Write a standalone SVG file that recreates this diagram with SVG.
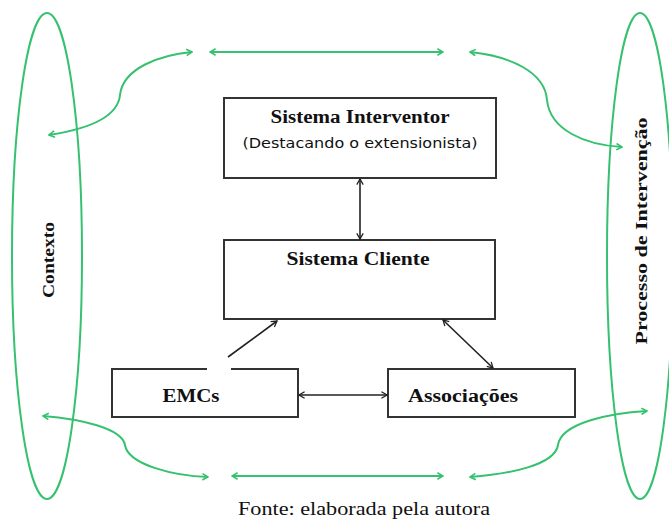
<svg xmlns="http://www.w3.org/2000/svg" width="669" height="522" viewBox="0 0 669 522">
<defs>
<style>
.g{fill:none;stroke:#35c16f;stroke-width:2}
.box{fill:#fff;stroke:#333;stroke-width:2}
.k{fill:none;stroke:#222;stroke-width:1.6}
.t{font-family:"Liberation Serif","Times New Roman",serif;font-weight:bold;fill:#111}
.s{font-family:"DejaVu Sans",Verdana,sans-serif;fill:#111}
</style>
<marker id="ga" viewBox="0 0 10 10" refX="9" refY="5" markerWidth="8" markerHeight="8" orient="auto-start-reverse" markerUnits="userSpaceOnUse">
<path d="M2,1 L9,5 L2,9" fill="none" stroke="#35c16f" stroke-width="2"/>
</marker>
<marker id="ka" viewBox="0 0 10 10" refX="9" refY="5" markerWidth="8" markerHeight="8" orient="auto-start-reverse" markerUnits="userSpaceOnUse">
<path d="M2,1 L9,5 L2,9" fill="none" stroke="#222" stroke-width="1.6"/>
</marker>
</defs>
<rect width="669" height="522" fill="#fff"/>
<g id="contexto">
<ellipse class="g" cx="47" cy="256" rx="35" ry="243"/>
<text class="t" transform="translate(54,260) rotate(-90)" text-anchor="middle" font-size="16" textLength="76" lengthAdjust="spacingAndGlyphs">Contexto</text>
</g>
<g id="processo">
<ellipse class="g" cx="640" cy="256" rx="33" ry="243"/>
<text class="t" transform="translate(647,231) rotate(-90)" text-anchor="middle" font-size="17" textLength="227" lengthAdjust="spacingAndGlyphs">Processo de Intervenção</text>
</g>
<g id="interventor">
<rect class="box" x="224" y="98" width="272" height="80"/>
<text class="t" x="360" y="123" text-anchor="middle" font-size="18" textLength="179" lengthAdjust="spacingAndGlyphs">Sistema Interventor</text>
<text class="s" x="360" y="148" text-anchor="middle" font-size="14" textLength="235" lengthAdjust="spacingAndGlyphs">(Destacando o extensionista)</text>
</g>
<g id="cliente">
<rect class="box" x="224" y="240" width="271" height="79"/>
<text class="t" x="358" y="265" text-anchor="middle" font-size="18" textLength="143" lengthAdjust="spacingAndGlyphs">Sistema Cliente</text>
</g>
<g id="emcs">
<rect x="112" y="369" width="186" height="48" fill="#fff"/>
<path class="k" style="stroke:#333;stroke-width:2" d="M207,369 H112 V417 H298 V369 H231"/>
<text class="t" x="191" y="402" text-anchor="middle" font-size="18" textLength="57" lengthAdjust="spacingAndGlyphs">EMCs</text>
</g>
<g id="associacoes">
<rect class="box" x="388" y="369" width="187" height="48"/>
<text class="t" x="463" y="402" text-anchor="middle" font-size="18" textLength="110" lengthAdjust="spacingAndGlyphs">Associações</text>
</g>
<g id="connectors">
<path class="g" marker-start="url(#ga)" marker-end="url(#ga)" d="M49,135 C95,128 118,115 120,95 C123,68 160,55 192,52"/>
<path class="g" marker-start="url(#ga)" marker-end="url(#ga)" d="M210,52 H443"/>
<path class="g" marker-start="url(#ga)" marker-end="url(#ga)" d="M470,52 C510,56 545,72 547,100 C550,130 585,145 622,147"/>
<path class="g" marker-start="url(#ga)" marker-end="url(#ga)" d="M43,416 C80,419 122,428 125,445 C128,465 175,476 208,477"/>
<path class="g" marker-start="url(#ga)" marker-end="url(#ga)" d="M232,476 H443"/>
<path class="g" marker-start="url(#ga)" marker-end="url(#ga)" d="M470,477 C510,474 555,465 558,445 C561,423 610,413 647,411"/>
<path class="k" marker-start="url(#ka)" marker-end="url(#ka)" d="M360,179 V239"/>
<path class="k" marker-end="url(#ka)" d="M228,357 L277,321"/>
<path class="k" marker-start="url(#ka)" marker-end="url(#ka)" d="M443,320 L493,368"/>
<path class="k" marker-start="url(#ka)" marker-end="url(#ka)" d="M299,395 H387"/>
</g>
<text x="364" y="515" text-anchor="middle" font-family="Liberation Serif,'Times New Roman',serif" font-size="19" fill="#111" textLength="252" lengthAdjust="spacingAndGlyphs">Fonte: elaborada pela autora</text>
</svg>
